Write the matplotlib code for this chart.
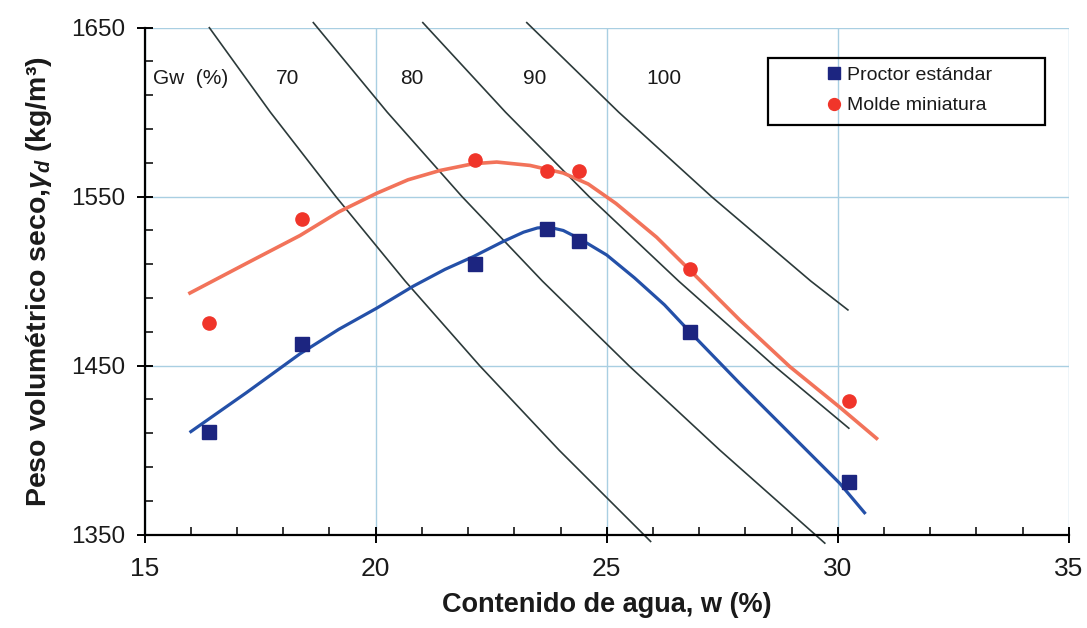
import matplotlib
matplotlib.use("Agg")
import matplotlib.pyplot as plt
from matplotlib.patches import Rectangle
from matplotlib.ticker import MultipleLocator

plt.rcParams["font.family"] = ["Liberation Sans", "DejaVu Sans"]
plt.rcParams["mathtext.fontset"] = "custom"
plt.rcParams["mathtext.rm"] = "Liberation Sans:bold"
plt.rcParams["mathtext.it"] = "Liberation Sans:italic:bold"

# compaction test results: water content w (%) vs dry unit weight (kg/m3)
proctor_w = [16.4, 18.4, 22.15, 23.7, 24.4, 26.8, 30.25]
proctor_gd = [1411, 1463, 1510, 1531, 1524, 1470, 1381]
molde_w = [16.4, 18.4, 22.15, 23.7, 24.4, 26.8, 30.25]
molde_gd = [1475, 1537, 1572, 1565, 1565, 1507, 1429]

# fitted compaction curves
proctor_fit_w = [16.0, 17.2, 18.36, 19.2, 20.02, 20.81, 21.5, 22.11, 22.76, 23.2,
                 23.5, 23.75, 24.06, 24.42, 25.00, 25.6, 26.25, 26.80, 27.88,
                 28.96, 30.04, 30.58]
proctor_fit_gd = [1411, 1434, 1457, 1471.5, 1484, 1497, 1507, 1514.5, 1523.5, 1529,
                  1531.5, 1532, 1530, 1525, 1515.5, 1502, 1486, 1470, 1439.5,
                  1410, 1380.5, 1363]
molde_fit_w = [15.98, 17.2, 18.36, 19.2, 20.02, 20.7, 21.39, 22.11, 22.62, 23.34,
               24.06, 24.6, 25.2, 26.08, 26.80, 27.88, 28.96, 30.04, 30.84]
molde_fit_gd = [1493, 1510.5, 1527, 1541, 1552, 1560, 1565.5, 1569.5, 1570.5, 1568.5,
                1564, 1557.5, 1546, 1526, 1506.5, 1477, 1449.5, 1425.5, 1407]

# degree-of-saturation lines Gw = 70, 80, 90, 100 %
sat_labels = ["70", "80", "90", "100"]
sat70_w = [16.4, 17.72, 19.14, 20.64, 22.25, 23.97, 25.95]
sat70_gd = [1650, 1600, 1550, 1500, 1450, 1400, 1346]
sat80_w = [18.65, 20.25, 21.87, 23.61, 25.48, 27.45, 29.72]
sat80_gd = [1653, 1600, 1550, 1500, 1450, 1400, 1345]
sat90_w = [21.02, 22.81, 24.62, 26.56, 28.62, 30.24]
sat90_gd = [1653, 1600, 1550, 1500, 1450, 1413]
sat100_w = [23.27, 25.26, 27.27, 29.42, 30.22]
sat100_gd = [1653, 1600, 1550, 1500, 1483]
sat_label_w = [18.10, 20.79, 23.45, 26.23]

y_ticks = [1350, 1450, 1550, 1650]

BLUE_LINE = "#2450a8"
BLUE_MARK = "#1c2580"
RED_LINE = "#f2735a"
RED_MARK = "#f0352a"
SAT = "#2c3a3a"
GRID = "#a9cfe2"
TXT = "#1a1a1a"

fig = plt.figure(figsize=(10.87, 6.28), dpi=100)
ax = fig.add_axes([0.1331, 0.1486, 0.8501, 0.8073])

ax.set_xlim(15, 35)
ax.set_ylim(1350, 1650)
ax.xaxis.set_major_locator(MultipleLocator(5))
ax.xaxis.set_minor_locator(MultipleLocator(1))
ax.set_yticks(y_ticks)
ax.yaxis.set_minor_locator(MultipleLocator(20, offset=10))

ax.grid(True, which="major", color=GRID, lw=1.0)
ax.set_axisbelow(True)
for side in ("top", "right"):
    ax.spines[side].set_visible(False)
for side in ("left", "bottom"):
    ax.spines[side].set_linewidth(1.6)
    ax.spines[side].set_color("black")

ax.tick_params(which="major", direction="inout", length=12, width=1.4,
               color="black", labelcolor=TXT)
ax.tick_params(which="minor", direction="in", length=6, width=1.1, color="black")
ax.tick_params(axis="x", labelsize=19, pad=10)
ax.tick_params(axis="y", labelsize=17.5, pad=8)

for w, gd in ((sat70_w, sat70_gd), (sat80_w, sat80_gd),
              (sat90_w, sat90_gd), (sat100_w, sat100_gd)):
    ax.plot(w, gd, color=SAT, lw=1.2, clip_on=False, zorder=2)

ax.text(15.18, 1620, "Gw  (%)", fontsize=15, color=TXT, va="center", ha="left")
for lbl, w in zip(sat_labels, sat_label_w):
    ax.text(w, 1620, lbl, fontsize=15, color=TXT, va="center", ha="center")

ax.plot(molde_fit_w, molde_fit_gd, color=RED_LINE, lw=2.6, zorder=3,
        solid_joinstyle="round")
ax.plot(proctor_fit_w, proctor_fit_gd, color=BLUE_LINE, lw=2.3, zorder=3,
        solid_joinstyle="round")
ax.plot(proctor_w, proctor_gd, ls="none", marker="s", ms=9.5, color=BLUE_MARK,
        zorder=4, label="Proctor estándar")
ax.plot(molde_w, molde_gd, ls="none", marker="o", ms=9.5, color=RED_MARK,
        zorder=4, label="Molde miniatura")

ax.set_xlabel("Contenido de agua, w (%)", fontsize=19.5, fontweight="bold",
              color=TXT, labelpad=8)
ax.set_ylabel(r"Peso volumétrico seco,$\gamma_d$ (kg/m³)", fontsize=20.5,
              fontweight="bold", color=TXT, labelpad=12)

# legend frame drawn separately so the box can be wider than its entries
ax.add_patch(Rectangle((0.6746, 0.8081), 0.2998, 0.1321, transform=ax.transAxes,
                       fill=False, ec="black", lw=1.6, zorder=5, clip_on=False))
leg = ax.legend(loc="upper left", bbox_to_anchor=(0.7386, 0.9245), frameon=False,
                fontsize=14, handlelength=0.7, handletextpad=0.32,
                borderpad=0, borderaxespad=0, labelspacing=0.68,
                markerscale=0.9)
for t in leg.get_texts():
    t.set_color(TXT)

fig.savefig("out.png", dpi=100, facecolor="white")
